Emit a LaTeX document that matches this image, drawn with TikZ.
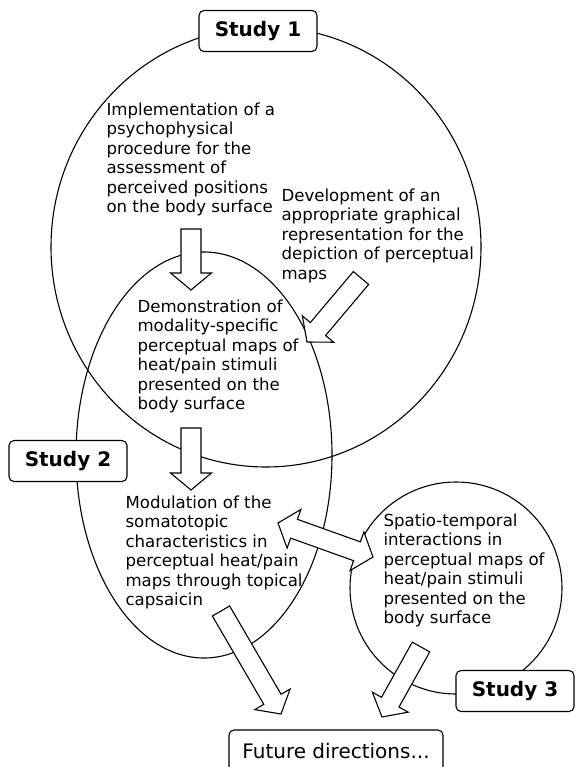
\documentclass[tikz,border=0pt]{standalone}
\usepackage{fontspec}
\setmainfont{DejaVu Sans}
\usetikzlibrary{calc,positioning}

% wide arrow from #1 to #2 (tip at #2)
\newcommand{\blockarrow}[2]{%
  \coordinate (hd) at ($(#2)!17pt!(#1)$);
  \filldraw[bigarrow] ($(#1)!10pt!90:(#2)$) -- ($(hd)!10pt!-90:(#1)$) -- ($(hd)!20.5pt!-90:(#1)$) -- (#2)
    -- ($(hd)!20.5pt!90:(#1)$) -- ($(hd)!10pt!90:(#1)$) -- ($(#1)!10pt!-90:(#2)$) -- cycle;}
% wide arrow with two tips
\newcommand{\doublearrow}[2]{%
  \coordinate (hda) at ($(#1)!17pt!(#2)$);
  \coordinate (hdb) at ($(#2)!17pt!(#1)$);
  \filldraw[bigarrow] (#1) -- ($(hda)!20.5pt!90:(#2)$) -- ($(hda)!10pt!90:(#2)$) -- ($(hdb)!10pt!-90:(#1)$)
    -- ($(hdb)!20.5pt!-90:(#1)$) -- (#2) -- ($(hdb)!20.5pt!90:(#1)$) -- ($(hdb)!10pt!90:(#1)$)
    -- ($(hda)!10pt!-90:(#2)$) -- ($(hda)!20.5pt!-90:(#2)$) -- cycle;}

\begin{document}
\begin{tikzpicture}[x=1pt, y=-1pt, line width=1.1pt]

\tikzset{txt/.style={align=left,inner sep=0pt,anchor=north west,font=\fontsize{16.6}{19.5}\selectfont},
studybox/.style={draw,fill=white,rounded corners=5pt,minimum width=118pt,minimum height=41pt,inner sep=2pt,font=\fontsize{20}{24}\selectfont\bfseries},
futurebox/.style={studybox,minimum width=214pt,minimum height=42pt,font=\fontsize{20}{24}\selectfont},
bigarrow/.style={draw,fill=white,line join=miter}}

\useasboundingbox (0,0) rectangle (575,767);

% Studies
\coordinate (c1) at (266,247);
\coordinate (c2) at (204,455);
\coordinate (c3) at (456,588);
\draw (c1) ellipse [x radius=215pt, y radius=220pt];
\draw (c2) ellipse [x radius=128pt, y radius=203pt];
\draw (c3) circle [radius=106pt];

% Texts
\node[txt] (impl) at (106,102) {Implementation of a\\psychophysical\\procedure for the\\assessment of\\perceived positions\\on the body surface};
\node[txt] (devel) at (281,188) {Development of an\\appropriate graphical\\representation for the\\depiction of perceptual\\maps};
\node[txt] (demo) at (137,299) {Demonstration of\\modality-specific\\perceptual maps of\\heat/pain stimuli\\presented on the\\body surface};
\node[txt] (modul) at (125,495) {Modulation of the\\somatotopic\\characteristics in\\perceptual heat/pain\\maps through topical\\capsaicin};
\node[txt] (spatio) at (383,513) {Spatio-temporal\\interactions in\\perceptual maps of\\heat/pain stimuli\\presented on the\\body surface};

% Arrows
\coordinate (a1s) at (191,229); \coordinate (a1e) at (191,290);
\coordinate (a2s) at (191,428); \coordinate (a2e) at (191,490);
\coordinate (a3s) at (361,278); \coordinate (a3e) at (307,342);
\coordinate (a4s) at (278,523); \coordinate (a4e) at (373,557);
\coordinate (a5s) at (221,611); \coordinate (a5e) at (281,714);
\coordinate (a6s) at (421,647); \coordinate (a6e) at (382,717);
\blockarrow{a1s}{a1e}
\blockarrow{a2s}{a2e}
\blockarrow{a3s}{a3e}
\doublearrow{a4s}{a4e}
\blockarrow{a5s}{a5e}
\blockarrow{a6s}{a6e}

% Labels
\node[studybox] (study1) at (258,31) {Study 1};
\node[studybox] (study2) at (68,461) {Study 2};
\node[studybox] (study3) at (515,691) {Study 3};
\node[futurebox] (future) at (336,751) {Future directions...};

\end{tikzpicture}
\end{document}
